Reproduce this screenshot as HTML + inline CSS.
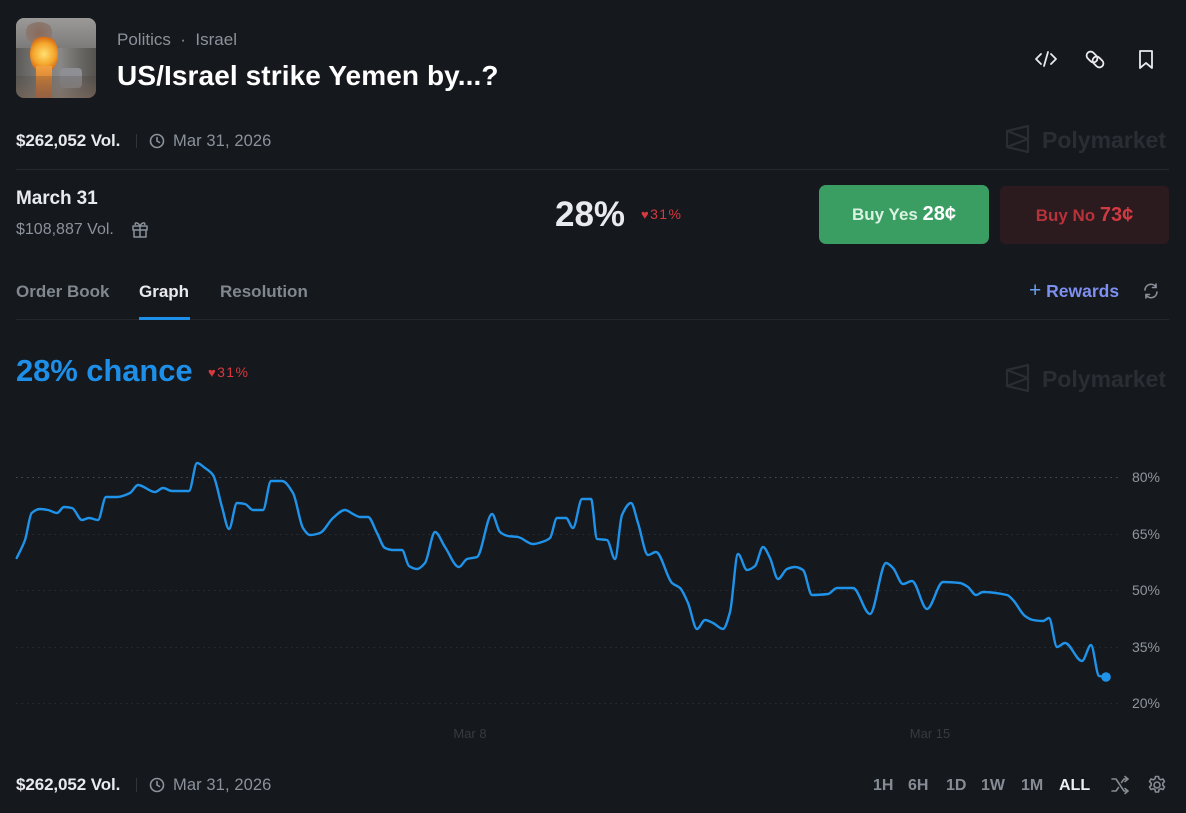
<!DOCTYPE html>
<html><head><meta charset="utf-8">
<style>
*{margin:0;padding:0;box-sizing:border-box}
html,body{width:1186px;height:813px;background:#15181c;overflow:hidden;font-family:"Liberation Sans",Arial,sans-serif}
.a{position:absolute;white-space:nowrap}
.g{color:#8b929b}
.hr{position:absolute;left:16px;width:1153px;height:1px;background:#262a30}
</style></head><body>

<!-- thumbnail -->
<div class="a" style="left:16px;top:18px;width:80px;height:80px;border-radius:8px;overflow:hidden;background:linear-gradient(90deg,#5b5a58 0%,#7c7b78 30%,#8a8886 55%,#6a6865 80%,#55524f 100%)">
  <div class="a" style="left:0;top:0;width:80px;height:30px;background:linear-gradient(180deg,#9c9a98,#7e7c7a)"></div>
  <div class="a" style="left:8px;top:4px;width:30px;height:22px;border-radius:50%;background:radial-gradient(circle,#8a6b5c,#8a7a72 70%,transparent 72%)"></div>
  <div class="a" style="left:14px;top:16px;width:28px;height:40px;border-radius:50%;background:radial-gradient(circle,#ffe070 0%,#f4a52a 45%,#d56a1a 70%,transparent 72%)"></div>
  <div class="a" style="left:20px;top:48px;width:16px;height:32px;background:linear-gradient(180deg,#f0a040,#c0602a)"></div>
  <div class="a" style="left:44px;top:50px;width:22px;height:20px;border-radius:4px;background:#8e8f94"></div>
  <div class="a" style="left:0;top:58px;width:80px;height:22px;background:linear-gradient(180deg,rgba(60,55,50,0.2),rgba(120,100,85,0.6))"></div>
</div>

<div class="a g" style="left:117px;top:30px;font-size:17px;line-height:20px">Politics &nbsp;·&nbsp; Israel</div>
<div class="a" style="left:117px;top:59px;font-size:28px;line-height:34px;font-weight:bold;color:#fff;letter-spacing:0.1px">US/Israel strike Yemen by...?</div>

<!-- top right icons -->
<svg class="a" style="left:1030px;top:45px" width="130" height="30" viewBox="0 0 130 30">
  <g fill="none" stroke="#e8eaed" stroke-width="1.8" stroke-linecap="round" stroke-linejoin="round">
    <path d="M11 9 L6 14 L11 19"/><path d="M21 9 L26 14 L21 19"/><path d="M18 7 L14 21"/>
    <rect x="58" y="6" width="8" height="12" rx="4" transform="rotate(-45 62 12)"/>
    <rect x="64" y="11" width="8" height="12" rx="4" transform="rotate(-45 68 17)"/>
    <path d="M110 6 h12 v17 l-6-5 l-6 5 z"/>
  </g>
</svg>

<div class="a" style="left:16px;top:131px;font-size:17px;line-height:20px;font-weight:bold;color:#e8eaed;letter-spacing:-0.1px">$262,052 Vol.</div>
<div class="a" style="left:136px;top:134px;width:1px;height:14px;background:#30353c"></div>
<svg class="a" style="left:149px;top:133px" width="16" height="16"><circle cx="8" cy="8" r="6.5" fill="none" stroke="#8b929b" stroke-width="1.6"/><path d="M8 4.5 V8 L10.5 9.5" fill="none" stroke="#8b929b" stroke-width="1.6" stroke-linecap="round"/></svg>
<div class="a g" style="left:173px;top:131px;font-size:16.5px;line-height:20px;letter-spacing:0.1px">Mar 31, 2026</div>

<!-- watermark -->
<svg class="a" style="left:1005px;top:125px" width="26" height="29" viewBox="0 0 26 29"><g fill="none" stroke="#2a2e34" stroke-width="2.2" stroke-linejoin="round"><path d="M2 6 L23 1 V27 L2 22 Z"/><path d="M2 6 L23 14 L2 22"/></g></svg>
<div class="a" style="left:1042px;top:126px;font-size:23px;line-height:28px;font-weight:bold;color:#2a2e34">Polymarket</div>

<div class="hr" style="top:169px"></div>

<div class="a" style="left:16px;top:187px;font-size:19px;line-height:23px;font-weight:bold;color:#e8eaed;letter-spacing:-0.1px">March 31</div>
<div class="a g" style="left:16px;top:220px;font-size:16px;line-height:19px">$108,887 Vol.</div>
<svg class="a" style="left:131px;top:220px" width="18" height="19" viewBox="0 0 18 19"><g fill="none" stroke="#8b929b" stroke-width="1.5" stroke-linejoin="round"><rect x="2" y="6" width="14" height="4"/><path d="M3 10 V17 H15 V10"/><path d="M9 6 V17"/><path d="M9 6 C7 2 3 2 4.5 5 M9 6 C11 2 15 2 13.5 5"/></g></svg>

<div class="a" style="left:555px;top:195px;font-size:35px;line-height:40px;font-weight:bold;color:#e8eaed">28%</div>
<div class="a" style="left:641px;top:206px;font-size:14px;line-height:17px;color:#d6393f;letter-spacing:1.4px"><span style="font-size:13px">♥</span>31%</div>

<div class="a" style="left:819px;top:185px;width:170px;height:59px;border-radius:7px;background:#3a9e63;text-align:center;line-height:59px;font-weight:bold;color:#d9f2e1;font-size:17px">Buy Yes <span style="font-size:20px;color:#fff">28¢</span></div>
<div class="a" style="left:1000px;top:186px;width:169px;height:58px;border-radius:5px;background:#2b1a1e;text-align:center;line-height:58px;font-weight:bold;color:#b8323a;font-size:17px">Buy No <span style="font-size:20px;color:#d23a42">73¢</span></div>

<!-- tabs -->
<div class="a" style="left:16px;top:281px;font-size:17px;line-height:21px;font-weight:bold;color:#80878f">Order Book</div>
<div class="a" style="left:139px;top:281px;font-size:17px;line-height:21px;font-weight:bold;color:#e8eaed">Graph</div>
<div class="a" style="left:220px;top:281px;font-size:17px;line-height:21px;font-weight:bold;color:#80878f">Resolution</div>
<div class="a" style="left:1029px;top:280px;font-size:17.5px;line-height:21px;font-weight:bold;color:#7d8ff0"><span style="font-weight:normal;font-size:21px;color:#6a9cf2">+</span> Rewards</div>
<svg class="a" style="left:1142px;top:282px" width="18" height="18" viewBox="0 0 18 18"><g fill="none" stroke="#8b929b" stroke-width="1.6" stroke-linecap="round"><path d="M3 8 A6 6 0 0 1 14 5 M15 10 A6 6 0 0 1 4 13"/><path d="M14 2 V5.5 H10.5 M4 16 V12.5 H7.5"/></g></svg>
<div class="hr" style="top:319px;background:#24282e"></div>
<div class="a" style="left:139px;top:317px;width:51px;height:3px;background:#1d8fe8"></div>

<div class="a" style="left:16px;top:353px;font-size:31px;line-height:35px;font-weight:bold;color:#1d8fe8;letter-spacing:-0.1px">28% chance</div>
<div class="a" style="left:208px;top:364px;font-size:14px;line-height:17px;color:#d6393f;letter-spacing:1.4px"><span style="font-size:13px">♥</span>31%</div>

<svg class="a" style="left:1005px;top:364px" width="26" height="29" viewBox="0 0 26 29"><g fill="none" stroke="#2a2e34" stroke-width="2.2" stroke-linejoin="round"><path d="M2 6 L23 1 V27 L2 22 Z"/><path d="M2 6 L23 14 L2 22"/></g></svg>
<div class="a" style="left:1042px;top:365px;font-size:23px;line-height:28px;font-weight:bold;color:#2a2e34">Polymarket</div>

<!-- chart -->
<svg class="a" style="left:0;top:0" width="1186" height="813">
  <g stroke-dasharray="1.5 4" stroke-width="1">
    <line x1="16" y1="477.5" x2="1118" y2="477.5" stroke="#4a4f57"/>
    <line x1="16" y1="534.5" x2="1118" y2="534.5" stroke="#2a2e35"/>
    <line x1="16" y1="590.5" x2="1118" y2="590.5" stroke="#2a2e35"/>
    <line x1="16" y1="647.5" x2="1118" y2="647.5" stroke="#2a2e35"/>
    <line x1="16" y1="703.5" x2="1118" y2="703.5" stroke="#2a2e35"/>
  </g>
  <g font-family="Liberation Sans, Arial, sans-serif" font-size="14" fill="#8f969e" text-anchor="end">
    <text x="1160" y="482">80%</text>
    <text x="1160" y="539">65%</text>
    <text x="1160" y="595">50%</text>
    <text x="1160" y="652">35%</text>
    <text x="1160" y="708">20%</text>
  </g>
  <g font-family="Liberation Sans, Arial, sans-serif" font-size="13" fill="#363b42" text-anchor="middle">
    <text x="470" y="738">Mar 8</text>
    <text x="930" y="738">Mar 15</text>
  </g>
  <polyline id="ln" fill="none" stroke="#1f93ea" stroke-width="2.4" stroke-linejoin="round" stroke-linecap="round" points="16.7,558 25,540 31.7,513 40,509 48,510 57,513 64,507 72,508 82,520 89,518 98,520 106,497 117,497 130,493 138,485 155,492 163,488 172,491 189,491 197,463 205,468 213,475 222,507 229,529 237,503 245,504 253,510 263,510 271,481 282,481 293,493 303,528 310,535 320,533 333,518 345,510 353,514 360,517 368,517 377,533 385,548 393,550 402,550 409,566 417,569 425,563 435,532 445,547 459,567 467,559 477,557 492,514 500,532 508,536 518,537 533,544 542,542 550,538 557,518 566,518 573,528 582,499 591,499 597,539 607,540 615,559 622,515 631,503 638,523 648,555 656,552 672,583 680,588 688,603 697,629 705,620 713,623 723,629 730,612 738,554 747,570 755,566 763,547 770,558 778,579 787,569 795,567 803,570 812,595 828,594 837,588 853,588 870,614 886,563 893,568 903,584 912,581 927,609 943,582 960,583 968,587 976,595 983,592 1007,595 1013,600 1025,616 1033,620 1043,621 1049,618 1057,647 1065,643 1082,661 1091,645 1099,676 1106,677"/>
  <path id="sm" fill="none" stroke="#1f93ea" stroke-width="2.4" stroke-linejoin="round" stroke-linecap="round" d=""/>
  <circle cx="1106" cy="677" r="4.8" fill="#1f93ea"/>
</svg>
<script>
(function(){
  var pl=document.getElementById('ln');
  var pts=pl.getAttribute('points').trim().split(/\s+/).map(function(s){var a=s.split(',');return [parseFloat(a[0]),parseFloat(a[1])];});
  var n=pts.length, m=[], d=[];
  for(var i=0;i<n-1;i++){d.push((pts[i+1][1]-pts[i][1])/(pts[i+1][0]-pts[i][0]));}
  m[0]=d[0]; m[n-1]=d[n-2];
  for(i=1;i<n-1;i++){ if(d[i-1]*d[i]<=0){m[i]=0;} else {m[i]=2/(1/d[i-1]+1/d[i]);} }
  var s='M'+pts[0][0]+','+pts[0][1];
  for(i=0;i<n-1;i++){
    var h=(pts[i+1][0]-pts[i][0])/3;
    s+=' C'+(pts[i][0]+h).toFixed(2)+','+(pts[i][1]+m[i]*h).toFixed(2)+' '+(pts[i+1][0]-h).toFixed(2)+','+(pts[i+1][1]-m[i+1]*h).toFixed(2)+' '+pts[i+1][0]+','+pts[i+1][1];
  }
  document.getElementById('sm').setAttribute('d',s);
  pl.style.display='none';
})();
</script>

<!-- footer -->
<div class="a" style="left:16px;top:775px;font-size:17px;line-height:20px;font-weight:bold;color:#e8eaed;letter-spacing:-0.1px">$262,052 Vol.</div>
<div class="a" style="left:136px;top:778px;width:1px;height:14px;background:#30353c"></div>
<svg class="a" style="left:149px;top:777px" width="16" height="16"><circle cx="8" cy="8" r="6.5" fill="none" stroke="#8b929b" stroke-width="1.6"/><path d="M8 4.5 V8 L10.5 9.5" fill="none" stroke="#8b929b" stroke-width="1.6" stroke-linecap="round"/></svg>
<div class="a g" style="left:173px;top:775px;font-size:16.5px;line-height:20px;letter-spacing:0.1px">Mar 31, 2026</div>

<div class="a" style="left:873px;top:776px;font-size:16px;line-height:20px;font-weight:bold;color:#858c94">1H</div>
<div class="a" style="left:908px;top:776px;font-size:16px;line-height:20px;font-weight:bold;color:#858c94">6H</div>
<div class="a" style="left:946px;top:776px;font-size:16px;line-height:20px;font-weight:bold;color:#858c94">1D</div>
<div class="a" style="left:981px;top:776px;font-size:16px;line-height:20px;font-weight:bold;color:#858c94">1W</div>
<div class="a" style="left:1021px;top:776px;font-size:16px;line-height:20px;font-weight:bold;color:#858c94">1M</div>
<div class="a" style="left:1059px;top:776px;font-size:16px;line-height:20px;font-weight:bold;color:#eceef0">ALL</div>
<svg class="a" style="left:1110px;top:775px" width="20" height="20" viewBox="0 0 20 20"><g fill="none" stroke="#858c94" stroke-width="1.6" stroke-linecap="round" stroke-linejoin="round"><path d="M2 4 H6 L14 16 H18 M2 16 H6 L8.5 12.5 M11.5 7.5 L14 4 H18"/><path d="M15 1.5 L18 4 L15 6.5 M15 13.5 L18 16 L15 18.5"/></g></svg>
<svg class="a" style="left:1147px;top:775px" width="20" height="20" viewBox="0 0 20 20"><g fill="none" stroke="#858c94" stroke-width="1.6"><circle cx="10" cy="10" r="3"/><path d="M8.5 1.5 h3 l0.5 2.3 l1.8 1 l2.2-0.8 l1.5 2.6 l-1.7 1.6 v2.1 l1.7 1.6 l-1.5 2.6 l-2.2-0.8 l-1.8 1 l-0.5 2.3 h-3 l-0.5-2.3 l-1.8-1 l-2.2 0.8 l-1.5-2.6 l1.7-1.6 v-2.1 l-1.7-1.6 l1.5-2.6 l2.2 0.8 l1.8-1 z" stroke-linejoin="round"/></g></svg>

</body></html>
